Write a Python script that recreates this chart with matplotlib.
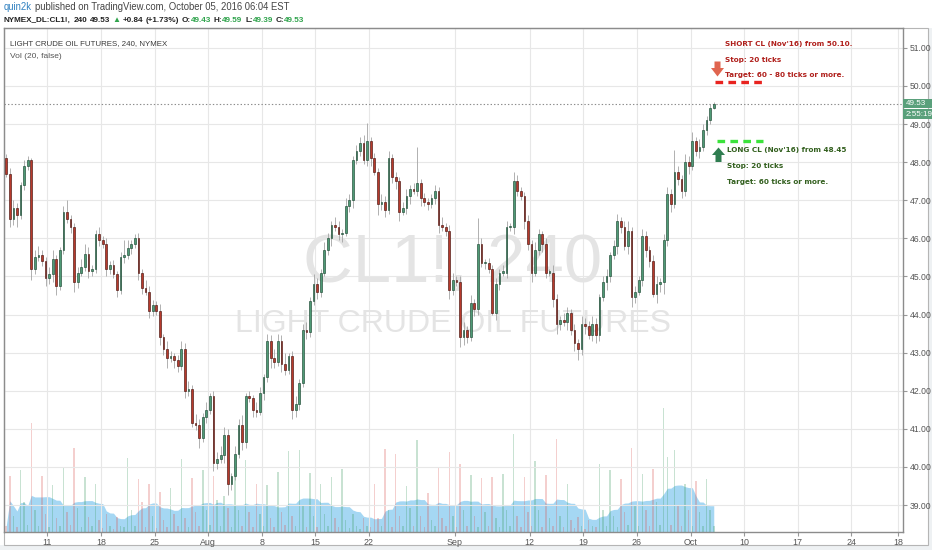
import numpy as np
import pandas as pd
import matplotlib
matplotlib.use("Agg")
import matplotlib.pyplot as plt
from matplotlib.patches import Rectangle, Polygon

plt.rcParams['lines.scale_dashes'] = False
plt.rcParams['font.family'] = ['Liberation Sans', 'DejaVu Sans']

# ---------------- data: CL1!, 240 ----------------
first_open = 48.10
close = [
    47.70, 46.50, 46.80, 46.60, 47.40, 47.90, 48.05, 45.20, 45.50, 45.55,
    45.40, 44.95, 45.05, 45.45, 44.75, 45.70, 46.70, 46.50, 46.30, 44.85,
    45.10, 45.25, 45.60, 45.15, 45.20, 46.10, 45.95, 45.85, 45.20, 45.30,
    45.05, 44.65, 45.50, 45.55, 45.75, 45.85, 46.00, 45.10, 44.70, 44.60,
    44.10, 44.25, 44.10, 43.40, 43.10, 42.85, 42.90, 42.80, 42.65, 43.10,
    42.00, 42.05, 41.15, 41.10, 40.75, 41.30, 41.50, 41.85, 40.10, 40.20,
    40.30, 40.85, 39.55, 39.75, 40.35, 41.10, 40.65, 41.85, 41.80, 41.50,
    41.45, 41.95, 42.35, 43.30, 42.85, 42.75, 43.30, 42.70, 42.55, 42.90,
    41.50, 41.65, 42.20, 43.60, 43.55, 44.35, 44.80, 44.60, 45.10, 45.70,
    46.00, 46.35, 46.30, 46.10, 46.15, 46.85, 47.00, 48.05, 48.30, 48.50,
    48.05, 48.55, 48.10, 47.75, 46.90, 46.95, 46.75, 48.10, 47.60, 47.50,
    46.70, 46.80, 47.10, 47.30, 47.25, 47.45, 47.05, 46.95, 46.90, 47.05,
    47.25, 46.35, 46.30, 46.20, 44.65, 44.90, 44.85, 43.40, 43.60, 43.40,
    44.30, 44.15, 45.85, 45.35, 45.35, 45.20, 44.05, 44.80, 45.10, 45.10,
    46.30, 46.30, 47.50, 47.25, 47.10, 46.45, 45.85, 45.10, 45.70, 46.10,
    45.85, 45.10, 45.10, 44.40, 43.75, 43.85, 43.80, 44.05, 43.60, 43.25,
    43.10, 43.75, 43.70, 43.45, 43.75, 43.45, 44.45, 44.85, 45.00, 45.55,
    45.80, 46.45, 46.30, 45.80, 46.20, 44.45, 44.60, 44.90, 46.05, 45.70,
    45.40, 44.55, 44.80, 44.85, 45.95, 47.15, 46.90, 47.75, 47.55, 47.25,
    48.00, 47.90, 48.55, 48.30, 48.40, 48.85, 49.10, 49.43, 49.53,
]
# upper / lower wick beyond the body, in cents
wick_up_cents = [
    10, 15, 20, 12, 8, 15, 10, 5, 20, 25,
    15, 10, 20, 25, 10, 8, 15, 30, 12, 10,
    15, 20, 25, 18, 10, 12, 20, 10, 15, 10,
    12, 10, 15, 40, 20, 10, 12, 15, 10, 20,
    15, 12, 10, 18, 10, 20, 15, 10, 15, 20,
    15, 20, 10, 25, 15, 12, 20, 10, 15, 20,
    25, 20, 15, 10, 20, 15, 25, 10, 15, 10,
    20, 15, 10, 20, 15, 25, 20, 15, 30, 10,
    15, 20, 10, 15, 20, 10, 25, 15, 10, 20,
    15, 10, 20, 15, 10, 20, 15, 10, 15, 15,
    20, 47, 10, 15, 10, 20, 15, 20, 10, 15,
    10, 15, 20, 10, 15, 95, 10, 15, 10, 12,
    15, 10, 20, 10, 15, 20, 10, 15, 20, 10,
    20, 10, 69, 15, 10, 12, 10, 15, 10, 20,
    15, 10, 24, 15, 10, 12, 15, 10, 20, 15,
    10, 15, 10, 20, 15, 10, 20, 15, 10, 15,
    10, 20, 15, 12, 20, 15, 10, 15, 20, 10,
    15, 20, 10, 15, 25, 10, 15, 10, 20, 15,
    10, 15, 20, 10, 15, 20, 15, 57, 15, 10,
    20, 15, 25, 10, 20, 15, 10, 10, 6,
]
wick_dn_cents = [
    10, 20, 15, 30, 10, 12, 10, 30, 15, 10,
    12, 20, 15, 20, 25, 10, 12, 10, 15, 25,
    15, 10, 12, 20, 15, 10, 15, 10, 20, 15,
    10, 20, 12, 15, 10, 15, 10, 20, 15, 10,
    20, 15, 12, 20, 15, 25, 10, 20, 15, 10,
    20, 15, 10, 12, 25, 10, 15, 10, 20, 15,
    10, 20, 28, 15, 10, 12, 20, 15, 10, 20,
    15, 10, 20, 12, 25, 15, 10, 20, 15, 10,
    25, 20, 15, 10, 20, 15, 10, 20, 15, 10,
    15, 20, 10, 15, 20, 10, 15, 20, 10, 15,
    10, 15, 20, 10, 30, 15, 20, 10, 15, 20,
    25, 10, 15, 20, 10, 15, 20, 10, 15, 10,
    15, 20, 10, 15, 25, 15, 10, 25, 20, 15,
    10, 20, 15, 10, 15, 10, 5, 20, 15, 10,
    15, 10, 20, 15, 10, 20, 15, 25, 10, 15,
    20, 15, 10, 20, 25, 15, 10, 20, 15, 20,
    30, 15, 20, 10, 15, 20, 15, 10, 20, 15,
    10, 20, 15, 10, 20, 25, 15, 10, 15, 20,
    15, 10, 25, 20, 30, 15, 20, 10, 15, 20,
    15, 20, 10, 15, 20, 10, 15, 10, 4,
]
# volume per bar (3 bars per trading day)
volume = [
    6, 56, 16,   5, 62, 30,   7, 109, 22,  6, 56, 18,   5, 47, 14,
    6, 64, 20,   7, 84, 24,   5, 55, 15,   6, 48, 12,   4, 18, 6,
    3, 15, 6,    5, 74, 22,   6, 53, 30,   5, 48, 16,   4, 40, 12,
    5, 44, 18,   6, 73, 14,   5, 54, 20,   6, 62, 22,   7, 56, 32,
    6, 36, 24,   5, 55, 22,   6, 72, 20,   5, 48, 18,   6, 47, 14,
    5, 60, 20,   7, 81, 16,   6, 82, 26,   5, 59, 16,   5, 48, 18,
    6, 55, 14,   5, 63, 12,   4, 18, 6,    3, 14, 6,    5, 48, 14,
    6, 83, 22,   5, 78, 16,   6, 46, 24,   6, 92, 16,   5, 39, 12,
    6, 65, 14,   6, 80, 16,   5, 68, 22,   6, 57, 16,   5, 54, 20,
    6, 55, 14,   5, 58, 22,   6, 98, 16,   5, 55, 20,   6, 71, 22,
    5, 57, 14,   6, 93, 16,   5, 48, 12,   4, 15, 6,    3, 12, 6,
    5, 68, 22,   6, 62, 16,   5, 53, 20,   7, 84, 26,   6, 58, 22,
    6, 63, 30,   7, 124, 75,  7, 82, 26,   6, 48, 22,   6, 51, 20,
    6, 53, 22,   6,
]
price_ticks = [39, 40, 41, 42, 43, 44, 45, 46, 47, 48, 49, 50, 51]
# trading days counted from Mon Jul 11 2016
date_ticks = [0, 5, 10, 15, 20, 25, 30, 38, 45, 50, 55, 60, 65, 70, 75, 79.35]
date_labels = ["11", "18", "25", "Aug", "8", "15", "22", "Sep", "12", "19",
               "26", "Oct", "10", "17", "24", "18"]
short_level = 50.10
long_level = 48.55
countdown = "2:55:19"

# ---------------- layout helpers (pixels) ----------------
W, H = 932, 550
PL, PR, PT, PB = 4.0, 903.0, 28.0, 531.7
X0_PX, PX_PER_DAY = 47.3, 10.72
P51_PX, PX_PER_USD = 47.8, 38.1
def day_of(px):
    return (px - X0_PX) / PX_PER_DAY
def price_of(py):
    return 51 - (py - P51_PX) / PX_PER_USD
def fxy(px, py):
    return (px / W, 1 - py / H)

fig = plt.figure(figsize=(W / 100, H / 100), dpi=100)
fig.patch.set_facecolor('white')
rect = [PL / W, 1 - PB / H, (PR - PL) / W, (PB - PT) / H]
ax_v = fig.add_axes(rect, zorder=0)
ax = fig.add_axes(rect, zorder=1)
ax.patch.set_alpha(0)

n = len(close)
c = np.array(close)
o = np.r_[first_open, c[:-1]]
hi = np.maximum(o, c) + np.array(wick_up_cents[:n]) / 100
lo = np.minimum(o, c) - np.array(wick_dn_cents[:n]) / 100
vol = np.array(volume[:n], dtype=float)
pos = -3.83 + np.arange(n) / 3.0
up = c >= o

xlim = (day_of(PL), day_of(PR))
ylim = (price_of(PB), price_of(PT))

# ---------------- volume pane ----------------
ma = pd.Series(vol).rolling(9, min_periods=1).mean()
ax_v.fill_between(pos, 0, ma, color='#8fcdf1', alpha=0.8, lw=0, zorder=1)
vcol = np.where(up, '#3c9a5f', '#d9534f')
ax_v.bar(pos, vol, width=0.14, color=vcol, alpha=0.28, lw=0, zorder=2)
ax_v.set_xlim(*xlim)
ax_v.set_ylim(0, PB - PT)
ax_v.axis('off')

# ---------------- price pane ----------------
ax.set_xlim(*xlim)
ax.set_ylim(*ylim)
ax.grid(True, color='#e7e7e7', lw=0.8)
ax.set_axisbelow(True)

ax.vlines(pos, lo, hi, color='#a3a3a3', lw=0.6, zorder=2)
bot = np.minimum(o, c)
hgt = np.maximum(np.abs(c - o), 0.03)
ax.bar(pos[up], hgt[up], bottom=bot[up], width=0.16, color='#4f9a76',
       edgecolor='#1f4a35', lw=0.45, zorder=3)
ax.bar(pos[~up], hgt[~up], bottom=bot[~up], width=0.16, color='#b73a2c',
       edgecolor='#4a1510', lw=0.45, zorder=3)

# last price dotted line
ax.axhline(c[-1], color='#8c8c8c', lw=0.8, ls=(0, (1, 1.5)), zorder=2)

# trade levels
ax.plot([day_of(715), day_of(761.7)], [short_level] * 2, color='#e8231f',
        lw=2.4, dashes=(5.5, 3.8), solid_capstyle='butt', dash_capstyle='butt', zorder=4)
ax.plot([day_of(716.7), day_of(763.3)], [long_level] * 2, color='#3be33b',
        lw=2.4, dashes=(5.5, 3.8), solid_capstyle='butt', dash_capstyle='butt', zorder=4)

# axes styling
ax.set_yticks(price_ticks)
ax.set_yticklabels([f"{p:.2f}" for p in price_ticks])
ax.set_xticks(date_ticks)
ax.set_xticklabels(date_labels)
ax.yaxis.tick_right()
ax.tick_params(axis='y', direction='out', length=3, width=0.8, color='#999999',
               labelsize=6.2, labelcolor='#555555', pad=2)
ax.tick_params(axis='x', direction='out', length=3, width=0.8, color='#999999',
               labelsize=6.4, labelcolor='#555555', pad=1.5)
for s in ax.spines.values():
    s.set_color('#8c8c8c')
    s.set_linewidth(1.0)

R = fig.canvas.get_renderer()

def text_w(t):
    return t.get_window_extent(R).width

# watermark
def watermark(s, cx, base, target, size):
    t = ax.text(0, 0, s, fontsize=size, color='#e4e4e4', ha='center', va='baseline',
                family='Liberation Sans', zorder=1)
    t.set_fontsize(size * target / text_w(t))
    t.set_position((day_of(cx), price_of(base)))
watermark("CL1!, 240", 452.5, 282, 299, 49)
watermark("LIGHT CRUDE OIL FUTURES", 453.5, 332, 437, 23)

# ---------------- figure texts ----------------
def seg_line(px, py, segs, target, size, **kw):
    ts, ws = [], []
    for s, col, wt, gap in segs:
        t = fig.text(0, 0, s, fontsize=size, color=col, fontweight=wt,
                     va='center', ha='left', **kw)
        ts.append(t)
        ws.append(text_w(t))
    sp = 0.278 * size * 100 / 72
    total = sum(ws) + sp * sum(1 for s in segs if s[3])
    k = target / total
    x = px
    for t, w, s in zip(ts, ws, segs):
        if s[3]:
            x += sp * k
        t.set_fontsize(size * k)
        t.set_position(fxy(x, py))
        x += w * k

fam = ['Liberation Sans', 'DejaVu Sans']
dark, grn = '#222222', '#2fa34c'
seg_line(4, 7.3, [("quin2k", '#2f80c0', 'normal', False),
                  ("published on TradingView.com, October 05, 2016 06:04 EST", '#444444', 'normal', True)],
         286, 7, family=fam)
seg_line(4, 20.7, [("NYMEX_DL:CL1!,", dark, 'bold', False), ("240", dark, 'bold', True),
                   ("49.53", dark, 'bold', True), ("\u25b2", grn, 'normal', True),
                   ("+0.84", dark, 'bold', True), ("(+1.73%)", dark, 'bold', True),
                   ("O:", dark, 'bold', True), ("49.43", grn, 'bold', False),
                   ("H:", dark, 'bold', True), ("49.59", grn, 'bold', False),
                   ("L:", dark, 'bold', True), ("49.39", grn, 'bold', False),
                   ("C:", dark, 'bold', True), ("49.53", grn, 'bold', False)],
         301, 7, family=fam)
seg_line(10, 43.3, [("LIGHT CRUDE OIL FUTURES, 240, NYMEX", '#3a3a3a', 'normal', False)],
         156, 6, family=fam)
seg_line(10, 56.0, [("Vol (20, false)", '#555555', 'normal', False)], 52, 6, family=fam)

# trade annotations
red_t, grn_t = '#b0201c', '#33601f'
probe = fig.text(0, 0, "SHORT CL (Nov'16) from 50.10.", fontsize=6, fontweight='bold',
                 family='DejaVu Sans')
asz = 6 * 129 / text_w(probe)
probe.remove()
for s, y in [("SHORT CL (Nov'16) from 50.10.", 44.3), ("Stop: 20 ticks", 60.0),
             ("Target: 60 - 80 ticks or more.", 75.0)]:
    fig.text(*fxy(725, y), s, fontsize=asz, fontweight='bold', color=red_t,
             family='DejaVu Sans', va='center', ha='left', zorder=6)
for s, y in [("LONG CL (Nov'16) from 48.45", 150.0), ("Stop: 20 ticks", 166.3),
             ("Target: 60 ticks or more.", 181.7)]:
    fig.text(*fxy(727, y), s, fontsize=asz, fontweight='bold', color=grn_t,
             family='DejaVu Sans', va='center', ha='left', zorder=6)

def poly(pts, col):
    fig.add_artist(Polygon([fxy(x, y) for x, y in pts], closed=True, facecolor=col,
                           edgecolor='none', transform=fig.transFigure, zorder=6))
# red down arrow
poly([(714.5, 61.5), (720.5, 61.5), (720.5, 68), (724, 68), (717.5, 76.5), (711, 68), (714.5, 68)], '#e0654f')
# green up arrow
poly([(715.5, 162), (721.5, 162), (721.5, 155), (725, 155), (718.5, 147.5), (712, 155), (715.5, 155)], '#2f7d50')

# last price / countdown labels on price scale
ly = ax.transData.transform((0, c[-1]))[1]
ly_px = H - ly
def box(y0, y1, s):
    fig.add_artist(Rectangle(fxy(903, y1), (932 - 903) / W, (y1 - y0) / H,
                             facecolor='#5aa07b', edgecolor='none',
                             transform=fig.transFigure, zorder=5))
    fig.text(*fxy(906, (y0 + y1) / 2), s, fontsize=5.8, color='white',
             va='center', ha='left', zorder=7)
box(ly_px - 4.4, ly_px + 4.2, f"{c[-1]:.2f}")
box(ly_px + 5.4, ly_px + 15.4, countdown)

# outer frame and grey margins
fig.add_artist(Rectangle(fxy(0, 550), 1, 5 / H, facecolor='#eef1f3', edgecolor='none',
                         transform=fig.transFigure, zorder=0))
fig.add_artist(Rectangle(fxy(928, 545), 4 / W, (545 - 28) / H, facecolor='#eef1f3',
                         edgecolor='none', transform=fig.transFigure, zorder=0))
fig.add_artist(Rectangle(fxy(4, 545), (928 - 4) / W, (545 - 28) / H, facecolor='none',
                         edgecolor='#b5b5b5', lw=0.8, transform=fig.transFigure, zorder=0.5))

fig.savefig('out.png', dpi=100)
